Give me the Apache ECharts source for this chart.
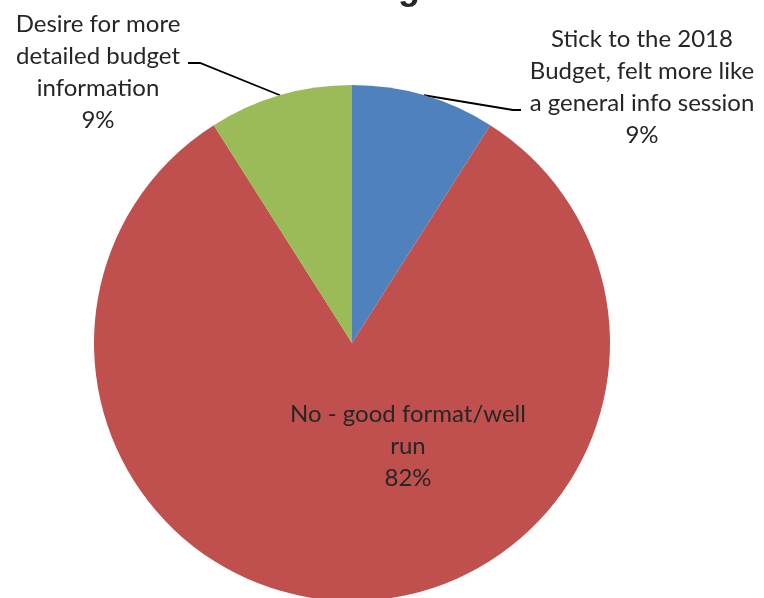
<!DOCTYPE html>
<html>
<head>
<meta charset="utf-8">
<script src="https://cdn.jsdelivr.net/npm/echarts@6/dist/echarts.min.js"></script>
<style>
html,body{margin:0;padding:0;background:#fff;}
#c{width:764px;height:598px;}
</style>
</head>
<body>
<div id="c"></div>
<script>
var categories = [
  "Stick to the 2018\nBudget, felt more like\na general info session",
  "No - good format/well\nrun",
  "Desire for more\ndetailed budget\ninformation"
];
var values = [9, 82, 9];
var colors = ["#4F81BD", "#C0504D", "#9BBB59"];
var titleFragment = "g";

var chart = echarts.init(document.getElementById('c'));
var FONT = 'Lato';
var labelPos = [
  {x: 642, y: 87, line: [[513, 110], [521, 110]]},
  {x: 408, y: 446, line: null},
  {x: 98, y: 72, line: [[200, 63], [188, 63]]}
];

chart.setOption({
  animation: false,
  backgroundColor: '#ffffff',
  graphic: [{
    type: 'text',
    left: 398,
    top: -29,
    style: {text: titleFragment, font: 'bold 36px "Liberation Sans"', fill: '#262626'}
  }],
  series: [{
    type: 'pie',
    center: [352, 343],
    radius: 258,
    startAngle: 90,
    clockwise: true,
    label: {
      show: true,
      formatter: function (p) { return p.name + '\n' + Math.round(p.percent) + '%'; },
      fontFamily: FONT,
      fontSize: 24,
      lineHeight: 32,
      color: '#262626',
      align: 'center'
    },
    labelLine: {show: true, lineStyle: {color: '#000', width: 1.8}, smooth: false},
    labelLayout: function (params) {
      var p = labelPos[params.dataIndex];
      var res = {x: p.x, y: p.y, align: 'center', verticalAlign: 'middle'};
      if (p.line && params.labelLinePoints) {
        res.labelLinePoints = [params.labelLinePoints[0], p.line[0], p.line[1]];
      }
      return res;
    },
    data: values.map(function (v, i) {
      var d = {value: v, name: categories[i], itemStyle: {color: colors[i]}};
      if (i === 1) d.labelLine = {show: false};
      return d;
    })
  }]
});
</script>
</body>
</html>
